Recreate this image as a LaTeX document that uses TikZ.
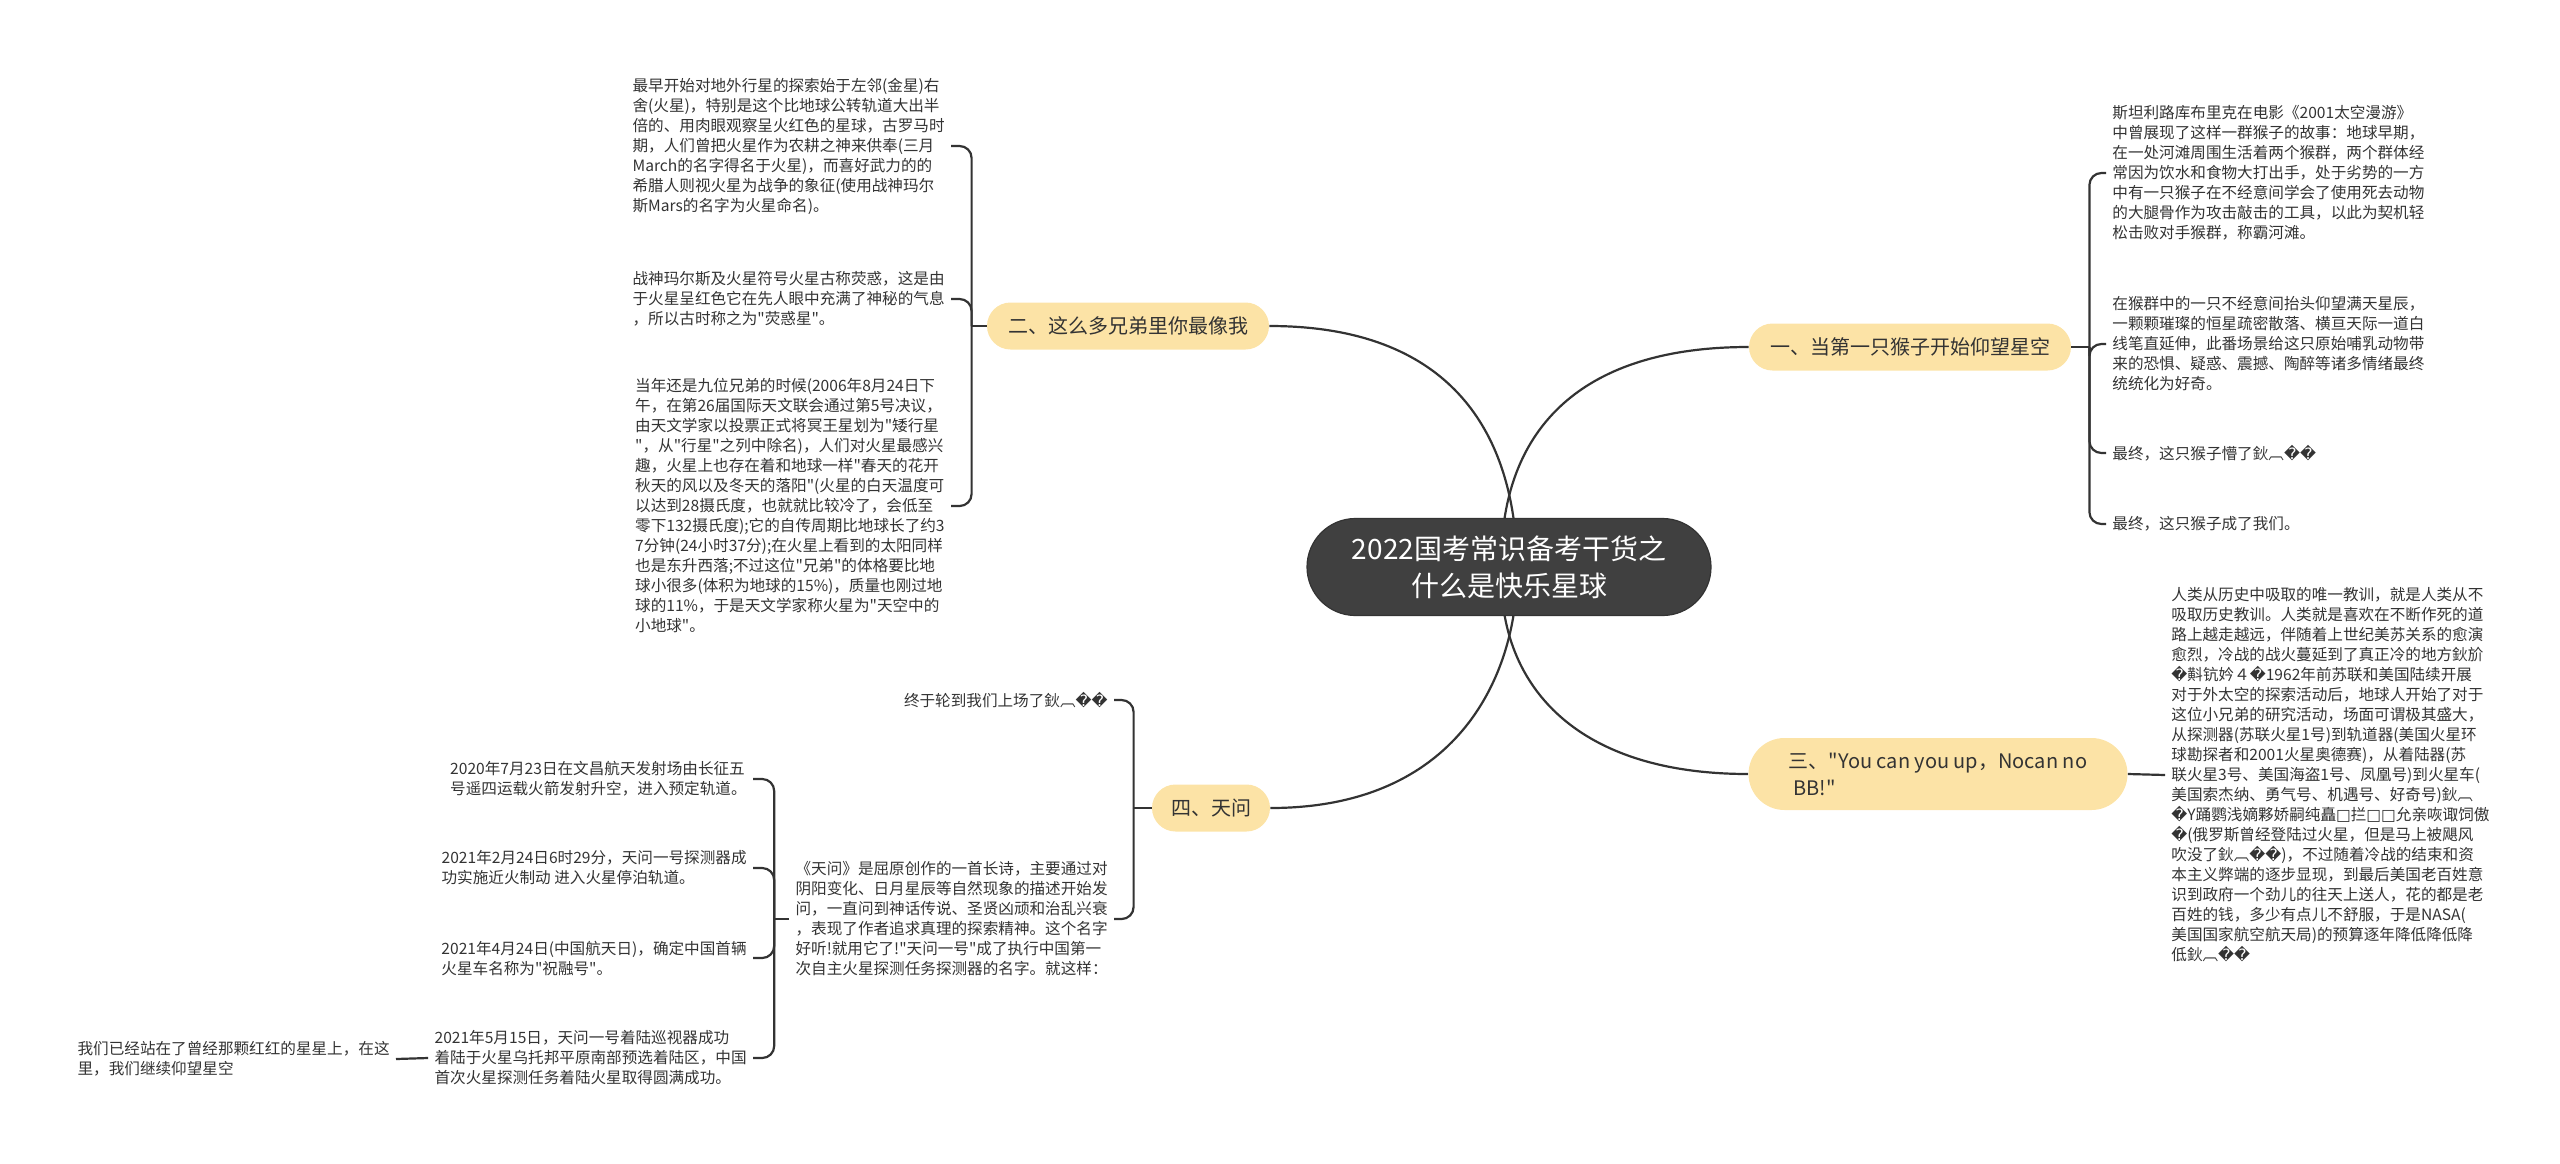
\documentclass[tikz,border=0pt]{standalone}
\usepackage{fontspec}
\newfontfamily\cjk{Noto Sans CJK SC}
\newfontfamily\djv{DejaVu Sans}
\usepackage{tikz}
\usetikzlibrary{shapes.misc, backgrounds}
\definecolor{rootgray}{HTML}{404040}
\definecolor{branchyellow}{HTML}{FCE3A6}
\definecolor{linkgray}{HTML}{333333}
\newcommand{\unk}{{\djv\char"FFFD}}
\newcommand{\tofu}{{\djv\char"25A1}}
\tikzset{
    root/.style={rounded rectangle, fill=rootgray, draw=black!80, line width=0.6pt,
        text=white, align=center, font=\cjk\fontsize{14}{18.5}\selectfont,
        minimum width=206pt, minimum height=48.5pt, inner sep=2pt},
    branch/.style={rounded rectangle, fill=branchyellow, text=linkgray,
        font=\cjk\fontsize{10}{13.5}\selectfont, minimum height=23.5pt, inner sep=2pt},
    leaf/.style={align=left, text=linkgray, font=\cjk\fontsize{7.8}{10}\selectfont, inner sep=3pt},
    link/.style={draw=linkgray, line width=1.1pt, rounded corners=6pt},
}

\begin{document}
\begin{tikzpicture}[x=0.5pt, y=-0.5pt]
\useasboundingbox (0,0) rectangle (2560,1163);
\node[root] (root) at (1509,567) {2022国考常识备考干货之\\什么是快乐星球};
\node[branch, minimum width=145pt] (b2) at (1128,326) {二、这么多兄弟里你最像我};
\node[branch, minimum width=165pt] (b1) at (1910,347) {一、当第一只猴子开始仰望星空};
\node[branch, minimum width=193.5pt, minimum height=36pt, align=left] (b3) at (1938,774) {三、"You can you up，Nocan no\\~BB!"};
\node[branch, minimum width=63pt] (b4) at (1211,808) {四、天问};

% 二
\node[leaf, anchor=east] (l21) at (951,146) {最早开始对地外行星的探索始于左邻(金星)右\\
舍(火星)，特别是这个比地球公转轨道大出半\\
倍的、用肉眼观察呈火红色的星球，古罗马时\\
期，人们曾把火星作为农耕之神来供奉(三月\\
March的名字得名于火星)，而喜好武力的的\\
希腊人则视火星为战争的象征(使用战神玛尔\\
斯Mars的名字为火星命名)。};
\node[leaf, anchor=east] (l22) at (951,299) {战神玛尔斯及火星符号火星古称荧惑，这是由\\
于火星呈红色它在先人眼中充满了神秘的气息\\
，所以古时称之为"荧惑星"。};
\node[leaf, anchor=east] (l23) at (951,506) {当年还是九位兄弟的时候(2006年8月24日下\\
午，在第26届国际天文联会通过第5号决议，\\
由天文学家以投票正式将冥王星划为"矮行星\\
"，从"行星"之列中除名)，人们对火星最感兴\\
趣，火星上也存在着和地球一样"春天的花开\\
秋天的风以及冬天的落阳"(火星的白天温度可\\
以达到28摄氏度，也就就比较冷了，会低至\\
零下132摄氏度);它的自传周期比地球长了约3\\
7分钟(24小时37分);在火星上看到的太阳同样\\
也是东升西落;不过这位"兄弟"的体格要比地\\
球小很多(体积为地球的15\%)，质量也刚过地\\
球的11\%，于是天文学家称火星为"天空中的\\
小地球"。};

% 一
\node[leaf, anchor=west] (l11) at (2106,173) {斯坦利路库布里克在电影《2001太空漫游》\\
中曾展现了这样一群猴子的故事：地球早期，\\
在一处河滩周围生活着两个猴群，两个群体经\\
常因为饮水和食物大打出手，处于劣势的一方\\
中有一只猴子在不经意间学会了使用死去动物\\
的大腿骨作为攻击敲击的工具，以此为契机轻\\
松击败对手猴群，称霸河滩。};
\node[leaf, anchor=west] (l12) at (2106,344) {在猴群中的一只不经意间抬头仰望满天星辰，\\
一颗颗璀璨的恒星疏密散落、横亘天际一道白\\
线笔直延伸，此番场景给这只原始哺乳动物带\\
来的恐惧、疑惑、震撼、陶醉等诸多情绪最终\\
统统化为好奇。};
\node[leaf, anchor=west] (l13) at (2106,453) {最终，这只猴子懵了鈥︹\unk{}\unk{}};
\node[leaf, anchor=west] (l14) at (2106,524) {最终，这只猴子成了我们。};

% 三
\node[leaf, anchor=west] (l31) at (2165,775) {人类从历史中吸取的唯一教训，就是人类从不\\
吸取历史教训。人类就是喜欢在不断作死的道\\
路上越走越远，伴随着上世纪美苏关系的愈演\\
愈烈，冷战的战火蔓延到了真正冷的地方鈥斺\\
\unk{}斢钪妗４\unk{}1962年前苏联和美国陆续开展\\
对于外太空的探索活动后，地球人开始了对于\\
这位小兄弟的研究活动，场面可谓极其盛大，\\
从探测器(苏联火星1号)到轨道器(美国火星环\\
球勘探者和2001火星奥德赛)，从着陆器(苏\\
联火星3号、美国海盗1号、凤凰号)到火星车(\\
美国索杰纳、勇气号、机遇号、好奇号)鈥︹\\
\unk{}Y踊鹦浅嫡夥娇嗣纯矗\tofu{}拦\tofu{}\tofu{}允亲咴诹饲傲\\
\unk{}(俄罗斯曾经登陆过火星，但是马上被飓风\\
吹没了鈥︹\unk{}\unk{})，不过随着冷战的结束和资\\
本主义弊端的逐步显现，到最后美国老百姓意\\
识到政府一个劲儿的往天上送人，花的都是老\\
百姓的钱，多少有点儿不舒服，于是NASA(\\
美国国家航空航天局)的预算逐年降低降低降\\
低鈥︹\unk{}\unk{}};

% 四
\node[leaf, anchor=east] (l41) at (1114,700) {终于轮到我们上场了鈥︹\unk{}\unk{}};
\node[leaf, anchor=east] (l42) at (1114,919) {《天问》是屈原创作的一首长诗，主要通过对\\
阴阳变化、日月星辰等自然现象的描述开始发\\
问，一直问到神话传说、圣贤凶顽和治乱兴衰\\
，表现了作者追求真理的探索精神。这个名字\\
好听!就用它了!"天问一号"成了执行中国第一\\
次自主火星探测任务探测器的名字。就这样：};
\node[leaf, anchor=east] (c1) at (753,779) {2020年7月23日在文昌航天发射场由长征五\\
号遥四运载火箭发射升空，进入预定轨道。};
\node[leaf, anchor=east] (c2) at (753,868) {2021年2月24日6时29分，天问一号探测器成\\
功实施近火制动 进入火星停泊轨道。};
\node[leaf, anchor=east] (c3) at (753,958) {2021年4月24日(中国航天日)，确定中国首辆\\
火星车名称为"祝融号"。};
\node[leaf, anchor=east] (c4) at (753,1058) {2021年5月15日，天问一号着陆巡视器成功\\
着陆于火星乌托邦平原南部预选着陆区，中国\\
首次火星探测任务着陆火星取得圆满成功。};
\node[leaf, anchor=east] (c5) at (396,1059) {我们已经站在了曾经那颗红红的星星上，在这\\
里，我们继续仰望星空};

\begin{scope}[on background layer]
\draw[link] (b2.east) .. controls (1440,326) and (1503,420) .. (1515,530);
\draw[link] (b1.west) .. controls (1590,347) and (1515,420) .. (1503,530);
\draw[link] (b3.west) .. controls (1590,774) and (1515,700) .. (1503,605);
\draw[link] (b4.east) .. controls (1440,808) and (1503,700) .. (1515,605);
\end{scope}

\draw[link] (b2.west) -- ++(-15,0) coordinate (s2);
\foreach \l in {l21,l22,l23}
    \draw[link] (s2) |- (\l.east);
\draw[link] (b1.east) -- ++(18,0) coordinate (s1);
\foreach \l in {l11,l12,l13,l14}
    \draw[link] (s1) |- (\l.west);
\draw[link] (b3.east) -- (l31.west);
\draw[link] (b4.west) -- ++(-18,0) coordinate (s4);
\foreach \l in {l41,l42}
    \draw[link] (s4) |- (\l.east);
\draw[link] (l42.west) -- ++(-15,0) coordinate (s42);
\foreach \l in {c1,c2,c3,c4}
    \draw[link] (s42) |- (\l.east);
\draw[link] (c4.west) -- (c5.east);
\end{tikzpicture}
\end{document}
